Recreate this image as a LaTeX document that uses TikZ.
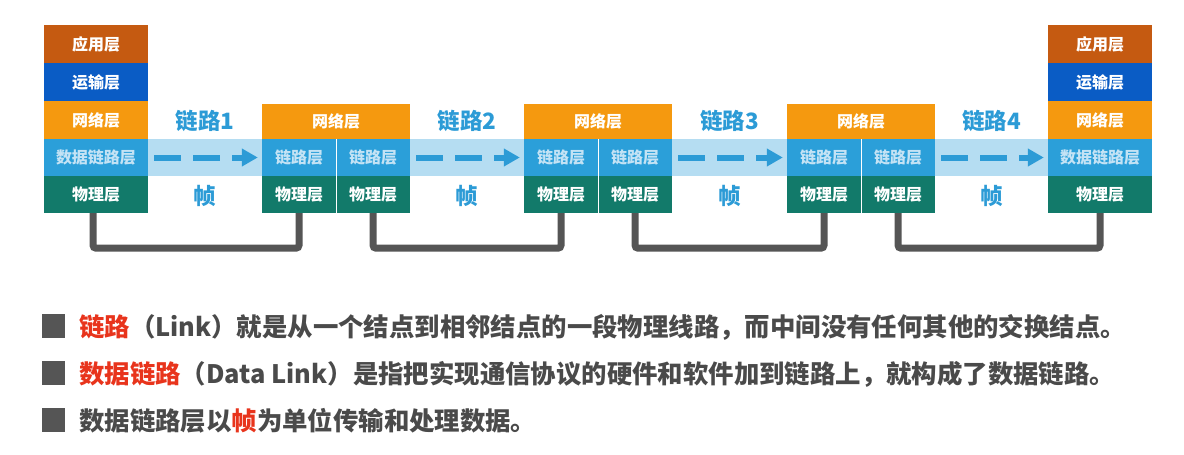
\documentclass[tikz,border=0pt]{standalone}
\usepackage{fontspec}
\setmainfont{Noto Sans CJK SC}
\usetikzlibrary{arrows.meta}
\definecolor{capp}{HTML}{C55A11}
\definecolor{ctrans}{HTML}{0A5CC5}
\definecolor{cnet}{HTML}{F5990F}
\definecolor{cdl}{HTML}{2B9FD9}
\definecolor{cphy}{HTML}{127A6A}
\definecolor{cband}{HTML}{B5DDF2}
\definecolor{cdltext}{HTML}{C4E3F5}
\definecolor{carrow}{HTML}{2C9BD6}
\definecolor{cwire}{HTML}{555555}
\definecolor{ctext}{HTML}{4A4A4A}
\definecolor{cred}{HTML}{E8341C}
\begin{document}
\begin{tikzpicture}[x=1pt,y=-1pt,
  layer/.style={rectangle,inner sep=0pt,minimum width=104pt,minimum height=38pt,
    text=white,font=\fontsize{16}{16}\selectfont\bfseries},
  half/.style={layer,minimum width=74pt},
  netbox/.style={layer,fill=cnet,minimum width=148pt,minimum height=35pt},
  wire/.style={draw=cwire,line width=7pt,rounded corners=3pt},
  darrow/.style={draw=carrow,line width=6pt,dash pattern=on 27pt off 12pt,
    -{Triangle[length=16pt,width=17pt]}},
  linklbl/.style={text=carrow,font=\fontsize{22.5}{22.5}\selectfont\bfseries,inner sep=0pt},
  bullet/.style={rectangle,fill=cwire,minimum width=23pt,minimum height=24pt,inner sep=0pt},
  body/.style={anchor=west,inner sep=0pt,text=ctext,font=\fontsize{25.4}{25.4}\selectfont\bfseries}
]
\useasboundingbox (0,0) rectangle (1184,455);
% band
\fill[cband] (148,139) rectangle (1048,176);
% left stack
\node[layer,fill=capp] (Lapp) at (96,44) {应用层};
\node[layer,fill=ctrans] (Ltr) at (96,82) {运输层};
\node[layer,fill=cnet] (Lnet) at (96,120) {网络层};
\node[layer,fill=cdl,text=cdltext,minimum height=37pt] (Ldl) at (96,157.5) {数据链路层};
\node[layer,fill=cphy,minimum height=37pt] (Lphy) at (96,194.5) {物理层};
% right stack
\node[layer,fill=capp] (Rapp) at (1100,44) {应用层};
\node[layer,fill=ctrans] (Rtr) at (1100,82) {运输层};
\node[layer,fill=cnet] (Rnet) at (1100,120) {网络层};
\node[layer,fill=cdl,text=cdltext,minimum height=37pt] (Rdl) at (1100,157.5) {数据链路层};
\node[layer,fill=cphy,minimum height=37pt] (Rphy) at (1100,194.5) {物理层};
% routers
\foreach \n/\x in {A/262,B/524,C/787}{
  \node[netbox] (\n net) at (\x+74,121.5) {网络层};
  \node[half,fill=cdl,text=cdltext,minimum height=37pt] (\n dla) at (\x+37,157.5) {链路层};
  \node[half,fill=cdl,text=cdltext,minimum height=37pt] (\n dlb) at (\x+111,157.5) {链路层};
  \node[half,fill=cphy,minimum height=37pt] (\n phya) at (\x+37,194.5) {物理层};
  \node[half,fill=cphy,minimum height=37pt] (\n phyb) at (\x+111,194.5) {物理层};
  \draw[white,line width=0.8pt] (\n dla.north east) -- (\n phya.south east);
}
% dashed arrows
\draw[darrow] ([xshift=6pt]Ldl.east) -- ([xshift=-4pt]Adla.west);
\draw[darrow] ([xshift=6pt]Adlb.east) -- ([xshift=-4pt]Bdla.west);
\draw[darrow] ([xshift=6pt]Bdlb.east) -- ([xshift=-4pt]Cdla.west);
\draw[darrow] ([xshift=6pt]Cdlb.east) -- ([xshift=-4pt]Rdl.west);
% link labels
\node[linklbl] (l1) at (205,121) {链路1};
\node[linklbl] (l2) at (467,121) {链路2};
\node[linklbl] (l3) at (729.5,121) {链路3};
\node[linklbl] (l4) at (991.5,121) {链路4};
\node[linklbl] (f1) at (205,196) {帧};
\node[linklbl] (f2) at (467,196) {帧};
\node[linklbl] (f3) at (729.5,196) {帧};
\node[linklbl] (f4) at (991.5,196) {帧};
% wires
\draw[wire] ([xshift=-3pt]Lphy.south) -- ++(0,35) -| (Aphya.south);
\draw[wire] (Aphyb.south) -- ++(0,35) -| (Bphya.south);
\draw[wire] (Bphyb.south) -- ++(0,35) -| (Cphya.south);
\draw[wire] (Cphyb.south) -- ++(0,35) -| (Rphy.south);
% bottom text
\node[bullet] (b1) at (53.5,326) {};
\node[bullet] (b2) at (53.5,373) {};
\node[bullet] (b3) at (53.5,420) {};
\node[body] (t1) at (79,327) {\textcolor{cred}{链路}（Link）就是从一个结点到相邻结点的一段物理线路，而中间没有任何其他的交换结点。};
\node[body] (t2) at (79,374) {\textcolor{cred}{数据链路}（Data Link）是指把实现通信协议的硬件和软件加到链路上，就构成了数据链路。};
\node[body] (t3) at (79,421) {数据链路层以\textcolor{cred}{帧}为单位传输和处理数据。};
\end{tikzpicture}
\end{document}
